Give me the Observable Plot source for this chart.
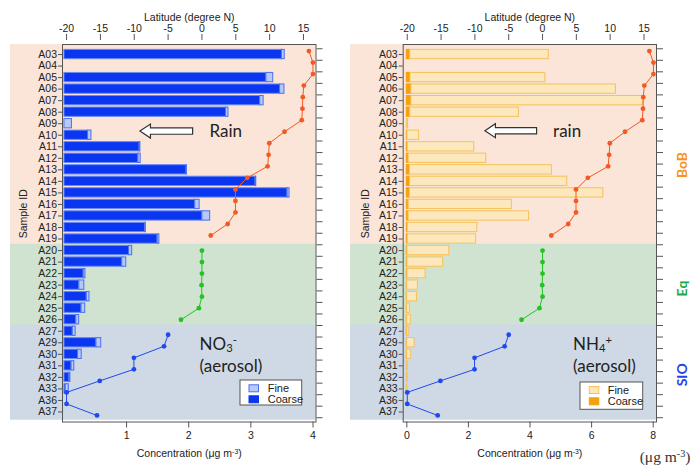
<!DOCTYPE html>
<html>
<head>
<meta charset="utf-8">
<script src="https://cdn.jsdelivr.net/npm/d3@7"></script>
<script src="https://cdn.jsdelivr.net/npm/@observablehq/plot@0.6"></script>
<style>
html, body { margin: 0; padding: 0; background: #fff; }
#chart { position: relative; width: 696px; height: 470px; overflow: hidden; background: #fff; }
#chart svg { position: absolute; top: 0; }
</style>
</head>
<body>
<div id="chart"></div>
<script>
// ---------------- data ----------------
const sampleIds = ["A03","A04","A05","A06","A07","A08","A09","A10","A11","A12","A13","A14","A15","A16","A17","A18","A19",
                   "A20","A21","A22","A23","A24","A25","A26",
                   "A27","A29","A30","A31","A32","A33","A36","A37"];
const regionOf = ["BoB","BoB","BoB","BoB","BoB","BoB","BoB","BoB","BoB","BoB","BoB","BoB","BoB","BoB","BoB","BoB","BoB",
                  "Eq","Eq","Eq","Eq","Eq","Eq","Eq",
                  "SIO","SIO","SIO","SIO","SIO","SIO","SIO","SIO"];
const latitude = [15.8, 16.4, 16.4, 15.05, 14.9, 14.85, 14.75, 12.2, 9.95, 9.85, 9.7, 6.7, 4.95, 4.95, 4.95, 3.8, 1.3,
                  0.0, 0.0, 0.0, -0.05, 0.0, -0.45, -3.1,
                  -5.0, -5.6, -10.05, -10.05, -15.1, -20.0, -20.0, -15.5];
// NO3- (µg m-3)
const no3Coarse = [3.50, 0, 3.25, 3.47, 3.15, 2.60, 0, 0.38, 1.21, 1.19, 1.965, 3.075, 3.59, 2.105, 2.22, 1.30, 1.50,
                   1.04, 0.93, 0.31, 0.24, 0.36, 0.275, 0.19,
                   0.135, 0.515, 0.22, 0.115, 0.08, 0.02, 0, 0];
const no3Fine   = [0.045, 0, 0.11, 0.07, 0.055, 0.04, 0.12, 0.055, 0.012, 0.037, 0.006, 0.012, 0.032, 0.07, 0.125, 0.01, 0.028,
                   0.05, 0.065, 0.028, 0.08, 0.043, 0.06, 0.048,
                   0.045, 0.077, 0.058, 0.044, 0.016, 0.05, 0, 0];
// NH4+ (µg m-3)
const nh4Coarse = [0.11, 0, 0.12, 0.15, 0.15, 0.11, 0, 0.02, 0.03, 0.06, 0.10, 0.11, 0.10, 0.06, 0.06, 0.03, 0.03,
                   0.02, 0.02, 0.02, 0.01, 0.01, 0.01, 0.01,
                   0.01, 0.01, 0.01, 0, 0, 0, 0, 0];
const nh4Fine   = [4.50, 0, 4.38, 6.64, 7.51, 3.53, 0.04, 0.38, 2.16, 2.52, 4.61, 5.10, 6.28, 3.35, 3.91, 2.26, 2.22,
                   1.36, 1.16, 0.59, 0.35, 0.32, 0.09, 0.12,
                   0.05, 0.24, 0.12, 0.03, 0.03, 0.02, 0, 0];
const latTicks = [-20, -15, -10, -5, 0, 5, 10, 15];
const no3Ticks = [1, 2, 3, 4];
const nh4Ticks = [0, 2, 4, 6, 8];
const regions = ["BoB", "Eq", "SIO"];
const regionLabelRows = ["A12", "A23", "A31"];
const legendItems = ["Fine", "Coarse"];

// ---------------- layout / style ----------------
const W = 348, H = 470, MT = 44, MB = 48.5, PAD_OUTER = 0.37;
const step = (H - MT - MB) / (sampleIds.length + 2 * PAD_OUTER);
const SANS = "'Liberation Sans', Arial, Helvetica, sans-serif";
const CAL = "Lato, 'Open Sans', sans-serif";
const bgColor = {BoB: "#fae5d8", Eq: "#cfe3d0", SIO: "#cfd9e5"};
const latColor = {BoB: "#f15a24", Eq: "#22c322", SIO: "#1f48ee"};
const latDy = {BoB: -3.5, Eq: 0, SIO: 3.5};
const labelColor = {BoB: "#f7941d", Eq: "#1aab4a", SIO: "#2543e6"};
const labelDy = {BoB: -6.4, Eq: -4.5, SIO: -2.7};
const yOpts = {type: "band", domain: sampleIds, paddingInner: 0, paddingOuter: PAD_OUTER, round: false, range: [MT, H - MB]};
const baseStyle = {fontFamily: SANS, fontSize: "10.5px", color: "#222", background: "transparent", overflow: "visible"};

function bandCenter(scales, id) {
  const y = scales.y;
  const bw = y && y.bandwidth ? y.bandwidth() : 0;
  return y(id) + bw / 2;
}

function arrowMark(a) {
  return (index, scales) => {
    const x1 = scales.x(a.tip), x2 = scales.x(a.tail);
    const y = bandCenter(scales, a.row) + a.dy;
    const hl = 10.5, hh = 7, sh = 3.2;
    const d = `M${x1},${y}L${x1 + hl},${y - hh}L${x1 + hl},${y - sh}L${x2},${y - sh}L${x2},${y + sh}L${x1 + hl},${y + sh}L${x1 + hl},${y + hh}Z`;
    const g = d3.create("svg:g");
    g.append("path").attr("d", d).attr("fill", "#fff").attr("stroke", "#333").attr("stroke-width", 1.2).attr("stroke-linejoin", "miter");
    return g.node();
  };
}

function legendMark(cfg) {
  return (index, scales, values, dims) => {
    const L = cfg.legend;
    const fr = dims.width - dims.marginRight, fb = dims.height - dims.marginBottom;
    const x0 = fr - L.right - L.w, y0 = fb - L.bottom - L.h;
    const g = d3.create("svg:g").attr("text-anchor", "start");
    g.append("rect").attr("x", x0).attr("y", y0).attr("width", L.w).attr("height", L.h)
      .attr("fill", "#fff").attr("stroke", "#555").attr("stroke-width", 1);
    const sw = {Fine: [cfg.fineFill, cfg.fineStroke], Coarse: [cfg.coarseFill, cfg.coarseFill]};
    legendItems.forEach((name, i) => {
      const cy = y0 + L.rows[i];
      g.append("rect").attr("x", x0 + L.sx).attr("y", cy - 3.5).attr("width", 9.5).attr("height", 7)
        .attr("fill", sw[name][0]).attr("stroke", sw[name][1]).attr("stroke-width", 1);
      g.append("text").attr("x", x0 + L.tx).attr("y", cy).attr("dy", "0.35em").attr("text-anchor", "start")
        .attr("font-size", 11).attr("fill", "#222").text(name);
    });
    return g.node();
  };
}

function richify(svg) {
  d3.select(svg).selectAll("text").each(function () {
    const t = this;
    const s = t.textContent;
    if (!/[_^]\{/.test(s)) return;
    while (t.firstChild) t.removeChild(t.firstChild);
    const re = /([_^])\{([^}]*)\}/g;
    let last = 0, m;
    while ((m = re.exec(s))) {
      if (m.index > last) t.appendChild(document.createTextNode(s.slice(last, m.index)));
      const ts = document.createElementNS("http://www.w3.org/2000/svg", "tspan");
      ts.setAttribute("baseline-shift", m[1] === "_" ? "-22%" : "super");
      ts.setAttribute("font-size", "66%");
      ts.textContent = m[2];
      t.appendChild(ts);
      last = re.lastIndex;
    }
    if (last < s.length) t.appendChild(document.createTextNode(s.slice(last)));
  });
}

function panel(cfg) {
  const rows = sampleIds.map((id, i) => ({id, region: regionOf[i], lat: latitude[i], coarse: cfg.coarse[i], fine: cfg.fine[i]}));
  const bgMarks = regions.map(r => Plot.barX(rows.filter(d => d.region === r), {
    y: "id", x1: () => cfg.xDomain[0], x2: () => cfg.xDomain[1], fill: bgColor[r],
    insetLeft: cfg.bgInset, insetTop: -0.5, insetBottom: -0.5
  }));
  const first = rows[0], last = rows[rows.length - 1];
  bgMarks.push(Plot.barX([first], {y: "id", x1: () => cfg.xDomain[0], x2: () => cfg.xDomain[1], fill: bgColor[first.region], insetLeft: cfg.bgInset, insetTop: -(step * PAD_OUTER)}));
  bgMarks.push(Plot.barX([last], {y: "id", x1: () => cfg.xDomain[0], x2: () => cfg.xDomain[1], fill: bgColor[last.region], insetLeft: cfg.bgInset, insetBottom: -2.5}));

  const extra = [];
  if (cfg.unitNote) {
    extra.push(Plot.text([cfg.unitNote], {text: d => d, frameAnchor: "bottom-right", textAnchor: "end", dx: 34, dy: 39.5,
      fontSize: 15.5, fontFamily: "'Liberation Serif', 'DejaVu Serif', serif", fill: "#333"}));
  }
  if (cfg.regionLabels) {
    regions.forEach((r, i) => {
      extra.push(Plot.text([{name: r, row: regionLabelRows[i]}], {text: "name", y: "row", frameAnchor: "right",
        dx: 26, dy: labelDy[r], rotate: -90, fill: labelColor[r], fontSize: 14, fontWeight: "bold", fontFamily: CAL}));
    });
  }

  const conc = Plot.plot({
    width: W, height: H, marginTop: MT, marginBottom: MB, marginLeft: cfg.ml, marginRight: cfg.mr,
    x: {domain: cfg.xDomain},
    y: yOpts,
    style: {...baseStyle, background: "#fff"},
    marks: [
      ...bgMarks,
      Plot.barX(rows.filter(d => d.coarse > 0), {y: "id", x1: () => 0, x2: "coarse", fill: cfg.coarseFill,
        stroke: cfg.coarseStroke, strokeWidth: 1, insetTop: 1.1, insetBottom: 1.1}),
      Plot.barX(rows.filter(d => d.fine > 0), {y: "id", x1: "coarse", x2: d => d.coarse + d.fine, fill: cfg.fineFill,
        stroke: cfg.fineStroke, strokeWidth: 1, insetTop: 1.1, insetBottom: 1.1}),
      Plot.frame({stroke: "#555", strokeWidth: 1}),
      Plot.axisY({anchor: "left", tickSize: 4, tickPadding: 1.5, label: null, fontSize: 10.5, stroke: "#555"}),
      Plot.axisX({anchor: "bottom", ticks: cfg.ticks, tickFormat: d => String(d), tickSize: 6, tickPadding: 4, label: null, fontSize: 10.5, stroke: "#555"}),
      Plot.text([cfg.xTitle], {text: d => d, frameAnchor: "bottom", dy: 34.5, fontSize: 10.5}),
      Plot.text(["Sample ID"], {text: d => d, frameAnchor: "left", rotate: -90, dx: cfg.sampleDx, dy: 5, fontSize: 10.5}),
      arrowMark(cfg.arrow),
      Plot.text([cfg.rain], {text: "t", x: "x", y: "row", dy: -3.7, textAnchor: "start", fontSize: 17, fontFamily: CAL, fill: "#222"}),
      Plot.text([cfg.species], {text: "t", x: "x", y: "row", dy: 1.5, textAnchor: "start", fontSize: 17, fontFamily: CAL, fill: "#222"}),
      Plot.text([cfg.aerosol], {text: "t", x: "x", y: "row", dy: 1, textAnchor: "start", fontSize: 17, fontFamily: CAL, fill: "#222"}),
      legendMark(cfg),
      ...extra
    ]
  });
  richify(conc);

  const lat = Plot.plot({
    width: W, height: H, marginTop: MT - 5, marginBottom: MB, marginLeft: cfg.ml, marginRight: cfg.mr,
    x: {domain: [-20.6, 16.85]},
    y: yOpts,
    style: baseStyle,
    marks: [
      Plot.axisX({anchor: "top", ticks: latTicks, tickFormat: d => String(d), tickSize: 6, tickPadding: 1.5, label: null, fontSize: 10.5, stroke: "#555"}),
      Plot.text(["Latitude (degree N)"], {text: d => d, frameAnchor: "top", dy: -25.7, fontSize: 10.5}),
      Plot.axisY({anchor: "right", tickSize: 6, tickFormat: () => "", label: null, stroke: "#555", dy: -step / 2}),
      Plot.axisY({anchor: "right", ticks: [sampleIds[sampleIds.length - 1]], tickSize: 6, tickFormat: () => "", label: null, stroke: "#555", dy: step / 2}),
      ...regions.flatMap(r => {
        const sub = rows.filter(d => d.region === r);
        return [
          Plot.line(sub, {x: "lat", y: "id", stroke: latColor[r], strokeWidth: 1, dy: latDy[r]}),
          Plot.dot(sub, {x: "lat", y: "id", r: 2.4, fill: latColor[r], stroke: "none", dy: latDy[r]})
        ];
      })
    ]
  });

  conc.style.left = cfg.left + "px";
  lat.style.left = cfg.left + "px";
  const chart = document.getElementById("chart");
  chart.appendChild(conc);
  chart.appendChild(lat);
}

panel({
  left: 0, ml: 62, mr: 32.5, xDomain: [-0.031, 4.048], ticks: no3Ticks,
  coarse: no3Coarse, fine: no3Fine,
  coarseFill: "#0a36f2", coarseStroke: "#6a8af2", fineFill: "#b7c9f7", fineStroke: "#4a6ef0",
  bgInset: -52, sampleDx: -39,
  xTitle: "Concentration (μg m^{-3})",
  rain: {t: "Rain", x: 2.335, row: "A10"},
  arrow: {tip: 1.223, tail: 2.071, row: "A10", dy: -3.7},
  species: {t: "NO_{3}^{-}", x: 2.174, row: "A29"},
  aerosol: {t: "(aerosol)", x: 2.174, row: "A31"},
  legend: {right: 13.8, bottom: 16.5, w: 61.7, h: 25, rows: [8.3, 19.3], sx: 9, tx: 27.7}
});
panel({
  left: 348, ml: 54.7, mr: 40, xDomain: [-0.117, 8.107], ticks: nh4Ticks,
  coarse: nh4Coarse, fine: nh4Fine,
  coarseFill: "#f7a10a", coarseStroke: "#f7a10a", fineFill: "#fde7bd", fineStroke: "#f6c25a",
  bgInset: -52.7, sampleDx: -37.7,
  xTitle: "Concentration (μg m^{-3})",
  rain: {t: "rain", x: 4.75, row: "A10"},
  arrow: {tip: 2.552, tail: 4.23, row: "A10", dy: -4},
  species: {t: "NH_{4}^{+}", x: 5.40, row: "A29"},
  aerosol: {t: "(aerosol)", x: 5.40, row: "A31"},
  legend: {right: 13.3, bottom: 12.2, w: 62.7, h: 27.3, rows: [8, 19.3], sx: 9.3, tx: 27.7},
  unitNote: "(μg m^{-3})",
  regionLabels: true
});
</script>
</body>
</html>
